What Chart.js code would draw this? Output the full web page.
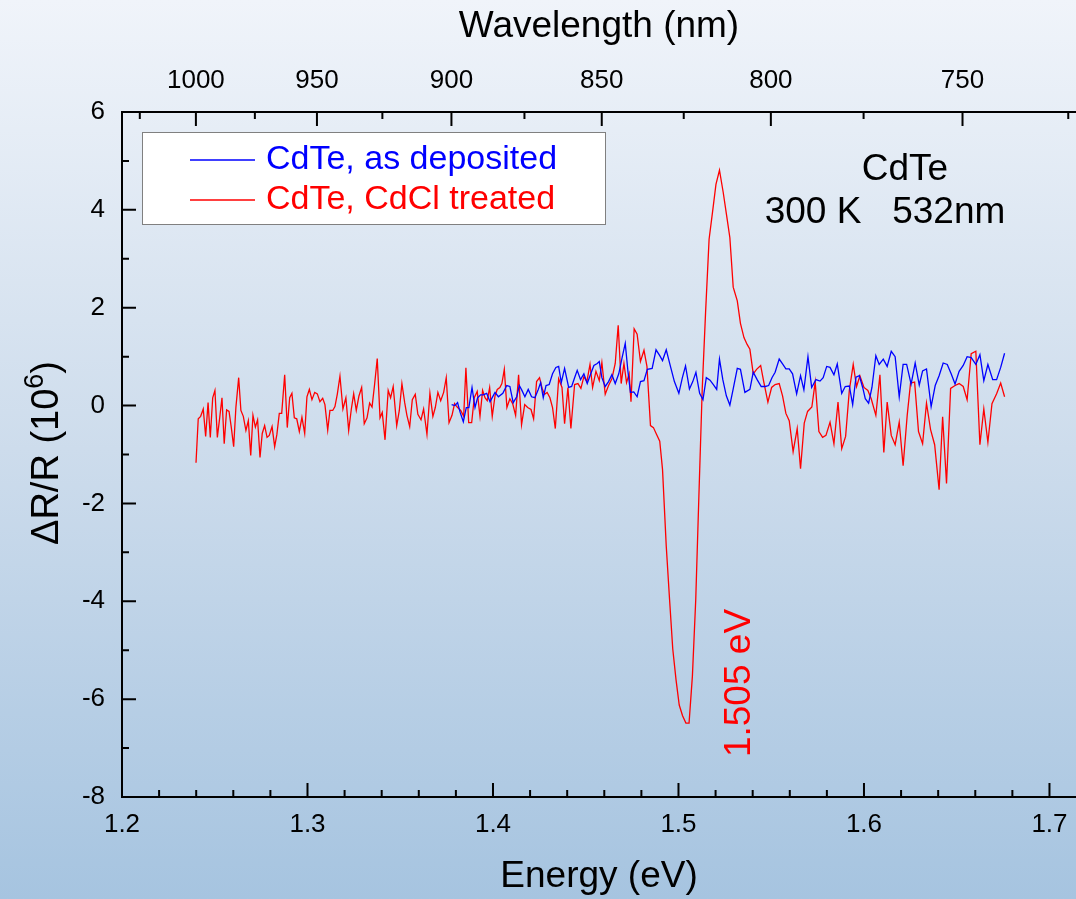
<!DOCTYPE html>
<html lang="en">
<head>
<meta charset="UTF-8">
<title>CdTe photoreflectance</title>
<script src="https://cdn.jsdelivr.net/npm/chart.js@4"></script>
<style>
  html, body { margin: 0; padding: 0; }
  body {
    width: 1076px; height: 899px; overflow: hidden;
    background: linear-gradient(to bottom, #f0f4fa 0%, #cddcec 50%, #a6c4e0 100%);
  }
  canvas { display: block; }
</style>
</head>
<body>
<canvas id="prChart" width="1076" height="899"></canvas>
<script>
// photon energy (eV) = HC / wavelength (nm)
const HC = 1239.84;

// tick positions
const energyTicks = [1.2, 1.3, 1.4, 1.5, 1.6, 1.7];
const energyMinor = [1.22, 1.24, 1.26, 1.28, 1.32, 1.34, 1.36, 1.38, 1.42, 1.44, 1.46, 1.48,
                     1.52, 1.54, 1.56, 1.58, 1.62, 1.64, 1.66, 1.68];
const wavelengthTicks = [1000, 950, 900, 850, 800, 750];
const wavelengthMinor = [1025, 975, 925, 875, 825, 775, 725];
const signalTicks = [-8, -6, -4, -2, 0, 2, 4, 6];
const signalMinor = [-7, -5, -3, -1, 1, 3, 5];

// CdTe as deposited
const blueEnergy = [
  1.3777,1.3795,1.3809,1.3823,1.3840,1.3856,1.3870,1.3887,1.3903,1.3917,
  1.3933,1.3947,1.3966,1.3984,1.4011,1.4029,1.4053,1.4074,1.4091,1.4109,
  1.4128,1.4142,1.4156,1.4172,1.4190,1.4208,1.4226,1.4244,1.4257,1.4271,
  1.4286,1.4303,1.4321,1.4339,1.4354,1.4368,1.4386,1.4408,1.4424,1.4440,
  1.4454,1.4472,1.4490,1.4508,1.4527,1.4544,1.4562,1.4573,1.4587,1.4605,
  1.4623,1.4641,1.4659,1.4678,1.4696,1.4713,1.4728,1.4741,1.4759,1.4777,
  1.4795,1.4814,1.4832,1.4858,1.4879,1.4899,1.4914,1.4934,1.4956,1.4978,
  1.5002,1.5021,1.5038,1.5059,1.5077,1.5094,1.5114,1.5132,1.5150,1.5170,
  1.5188,1.5206,1.5221,1.5239,1.5258,1.5277,1.5295,1.5317,1.5334,1.5358,
  1.5385,1.5403,1.5424,1.5446,1.5468,1.5486,1.5504,1.5521,1.5543,1.5561,
  1.5579,1.5597,1.5615,1.5637,1.5658,1.5676,1.5698,1.5718,1.5741,1.5763,
  1.5780,1.5799,1.5817,1.5838,1.5856,1.5880,1.5899,1.5921,1.5939,1.5957,
  1.5975,1.5993,1.6007,1.6025,1.6043,1.6064,1.6082,1.6104,1.6125,1.6147,
  1.6168,1.6190,1.6211,1.6230,1.6254,1.6276,1.6298,1.6316,1.6337,1.6362,
  1.6384,1.6405,1.6427,1.6449,1.6470,1.6491,1.6513,1.6535,1.6556,1.6578,
  1.6603,1.6625,1.6646,1.6668,1.6694,1.6715,1.6737,1.6758
];
const blueSignal = [
  0.02,0.00,0.06,-0.14,-0.33,-0.04,-0.04,0.37,-0.04,0.16,
  0.22,0.22,0.25,0.08,0.27,0.18,0.25,0.41,0.39,0.06,
  0.18,0.41,0.31,0.18,0.33,0.18,0.16,0.33,0.47,0.16,
  0.41,0.43,0.65,0.78,0.80,0.47,0.76,0.37,0.39,0.57,
  0.72,0.53,0.65,0.45,0.65,0.82,0.86,0.90,0.57,0.39,
  0.49,0.63,0.45,0.65,0.98,1.27,0.68,0.27,0.28,0.18,
  0.49,0.51,0.74,0.76,1.14,1.02,0.92,1.14,0.81,0.49,
  0.25,0.57,0.81,0.34,0.49,0.68,0.25,0.12,0.57,0.52,
  0.43,0.33,0.95,0.53,0.20,0.01,0.34,0.76,0.74,0.27,
  0.33,0.68,0.53,0.39,0.39,0.41,0.57,0.68,0.95,0.85,
  0.75,0.75,0.65,0.24,0.61,0.32,1.00,0.37,0.53,0.50,
  0.57,0.80,0.78,0.63,0.85,0.25,0.39,0.40,0.02,0.58,
  0.61,0.37,0.14,0.05,0.37,1.02,0.84,0.95,0.80,1.11,
  1.00,0.18,0.84,0.84,0.44,0.87,0.42,0.71,0.75,-0.02,
  0.41,0.61,0.87,0.84,0.65,0.44,0.70,0.82,1.00,0.98,
  0.84,1.04,0.51,0.84,0.53,0.53,0.78,1.07
];

// CdTe, CdCl treated
const redEnergy = [
  1.2399,1.2411,1.2424,1.2438,1.2451,1.2464,1.2476,1.2489,1.2501,1.2514,
  1.2527,1.2539,1.2551,1.2564,1.2577,1.2589,1.2602,1.2614,1.2629,1.2641,
  1.2654,1.2668,1.2681,1.2694,1.2706,1.2719,1.2731,1.2744,1.2756,1.2769,
  1.2782,1.2794,1.2809,1.2823,1.2835,1.2848,1.2861,1.2877,1.2891,1.2904,
  1.2916,1.2929,1.2942,1.2956,1.2970,1.2985,1.2997,1.3010,1.3024,1.3039,
  1.3053,1.3067,1.3082,1.3094,1.3109,1.3121,1.3136,1.3148,1.3161,1.3175,
  1.3191,1.3207,1.3222,1.3236,1.3249,1.3263,1.3277,1.3292,1.3306,1.3321,
  1.3335,1.3348,1.3362,1.3376,1.3391,1.3403,1.3418,1.3435,1.3448,1.3462,
  1.3481,1.3495,1.3509,1.3524,1.3536,1.3551,1.3565,1.3581,1.3595,1.3612,
  1.3626,1.3644,1.3660,1.3676,1.3689,1.3703,1.3718,1.3734,1.3748,1.3763,
  1.3779,1.3793,1.3807,1.3826,1.3842,1.3854,1.3869,1.3885,1.3899,1.3915,
  1.3930,1.3944,1.3957,1.3969,1.3982,1.3996,1.4011,1.4023,1.4037,1.4048,
  1.4061,1.4075,1.4091,1.4106,1.4122,1.4138,1.4154,1.4171,1.4187,1.4205,
  1.4219,1.4235,1.4251,1.4265,1.4278,1.4292,1.4307,1.4321,1.4336,1.4354,
  1.4372,1.4386,1.4404,1.4420,1.4440,1.4458,1.4474,1.4490,1.4506,1.4523,
  1.4537,1.4555,1.4573,1.4587,1.4605,1.4623,1.4641,1.4659,1.4675,1.4691,
  1.4706,1.4720,1.4734,1.4744,1.4761,1.4777,1.4795,1.4814,1.4830,1.4849,
  1.4865,1.4882,1.4899,1.4914,1.4934,1.4952,1.4969,1.4987,1.5004,1.5022,
  1.5040,1.5057,1.5075,1.5093,1.5110,1.5128,1.5146,1.5165,1.5184,1.5202,
  1.5221,1.5241,1.5260,1.5277,1.5295,1.5317,1.5334,1.5353,1.5370,1.5385,
  1.5403,1.5421,1.5443,1.5460,1.5482,1.5502,1.5521,1.5543,1.5561,1.5579,
  1.5597,1.5618,1.5640,1.5658,1.5678,1.5696,1.5719,1.5737,1.5757,1.5777,
  1.5795,1.5817,1.5838,1.5860,1.5880,1.5901,1.5921,1.5942,1.5960,1.5978,
  1.6000,1.6021,1.6039,1.6064,1.6086,1.6107,1.6125,1.6147,1.6168,1.6190,
  1.6211,1.6233,1.6251,1.6273,1.6294,1.6316,1.6337,1.6359,1.6381,1.6405,
  1.6424,1.6445,1.6467,1.6491,1.6513,1.6535,1.6556,1.6578,1.6603,1.6625,
  1.6646,1.6668,1.6690,1.6715,1.6737,1.6758
];
const redSignal = [
  -1.17,-0.27,-0.22,-0.07,-0.63,0.06,-0.65,0.16,0.31,-0.65,
  -0.24,0.16,-0.78,-0.09,-0.12,-0.44,-0.84,-0.04,0.57,-0.10,
  -0.22,-0.51,-0.31,-1.02,-0.20,-0.44,-0.29,-1.06,-0.57,-0.41,
  -0.65,-0.61,-0.43,-0.84,-0.59,-0.16,-0.16,0.63,-0.45,0.16,
  0.25,-0.25,-0.27,-0.53,-0.24,-0.57,0.18,0.33,0.12,0.27,
  0.24,0.08,0.15,0.02,-0.50,-0.10,-0.10,-0.02,0.24,0.60,
  -0.07,0.16,-0.51,-0.08,0.24,-0.10,0.19,0.37,-0.37,-0.25,
  0.05,-0.03,0.44,0.96,-0.25,-0.14,-0.70,0.31,0.16,0.39,
  -0.41,-0.10,0.45,0.06,-0.20,-0.43,0.12,0.23,-0.18,-0.29,
  -0.07,-0.59,0.25,-0.22,-0.04,0.27,0.10,0.27,0.57,-0.35,
  -0.20,0.04,-0.03,-0.10,-0.22,0.77,-0.35,-0.35,0.16,0.29,
  -0.22,0.31,0.16,0.10,0.37,-0.22,0.20,0.33,0.37,0.45,
  0.74,-0.04,0.14,0.04,-0.20,0.63,-0.39,0.02,-0.04,-0.08,
  -0.27,0.49,0.57,0.35,0.23,0.27,0.16,-0.04,-0.47,0.55,
  0.37,-0.37,0.37,-0.47,0.43,0.45,0.35,0.59,0.49,0.84,
  0.37,0.70,0.51,0.88,0.23,0.41,0.55,0.86,1.64,0.45,
  0.86,0.47,0.65,0.08,1.57,1.46,0.90,1.13,0.80,-0.41,
  -0.45,-0.59,-0.73,-1.31,-2.87,-3.97,-4.97,-5.61,-6.12,-6.34,
  -6.49,-6.49,-5.53,-3.97,-1.85,0.34,1.90,3.40,3.97,4.52,
  4.81,4.36,3.87,3.43,2.42,2.14,1.68,1.39,1.25,1.15,
  0.65,0.74,0.82,0.48,0.07,0.37,0.43,0.45,0.20,-0.16,
  -0.31,-0.94,-0.47,-1.29,-0.36,-0.12,-0.03,0.48,-0.53,-0.65,
  -0.61,-0.34,-0.78,0.07,-0.88,-0.63,0.31,0.84,0.39,0.61,
  0.37,0.31,0.14,-0.20,0.63,-0.96,0.07,-0.61,-0.80,-0.34,
  -1.23,-0.20,0.46,0.48,-0.53,-0.78,0.05,-0.49,-0.80,-1.72,
  -0.23,-1.59,0.35,0.41,0.45,0.39,0.12,1.06,1.11,-0.80,
  -0.07,-0.75,0.04,0.24,0.46,0.18
];

const FONT = '"Liberation Sans", Arial, Helvetica, sans-serif';

function toPoints(xs, ys) {
  return xs.map((x, i) => ({ x: x, y: ys[i] }));
}

// keep the plot flush with the left axis and the right edge of the canvas
function fitHorizontal(height) {
  return s => {
    s.height = height;
    s.paddingLeft = 0;
    s.paddingRight = 0;
  };
}

// inward tick marks, legend box, y title and the text notes
const extras = {
  id: 'extras',
  afterDraw(chart) {
    const ctx = chart.ctx;
    const a = chart.chartArea;
    const sx = chart.scales.x, sy = chart.scales.y;
    ctx.save();

    // ticks
    ctx.strokeStyle = '#000';
    ctx.lineWidth = 2;
    ctx.beginPath();
    energyTicks.forEach(v => { const p = sx.getPixelForValue(v); ctx.moveTo(p, a.bottom); ctx.lineTo(p, a.bottom - 14); });
    energyMinor.forEach(v => { const p = sx.getPixelForValue(v); ctx.moveTo(p, a.bottom); ctx.lineTo(p, a.bottom - 7); });
    wavelengthTicks.forEach(w => { const p = sx.getPixelForValue(HC / w); ctx.moveTo(p, a.top); ctx.lineTo(p, a.top + 14); });
    wavelengthMinor.forEach(w => { const p = sx.getPixelForValue(HC / w); ctx.moveTo(p, a.top); ctx.lineTo(p, a.top + 7); });
    signalTicks.forEach(v => { const p = sy.getPixelForValue(v); ctx.moveTo(a.left, p); ctx.lineTo(a.left + 14, p); });
    signalMinor.forEach(v => { const p = sy.getPixelForValue(v); ctx.moveTo(a.left, p); ctx.lineTo(a.left + 7, p); });
    ctx.stroke();

    // legend
    ctx.fillStyle = '#fff';
    ctx.fillRect(142, 132, 463, 92);
    ctx.strokeStyle = '#808080';
    ctx.lineWidth = 1;
    ctx.strokeRect(142.5, 132.5, 463, 92);
    ctx.font = '34px ' + FONT;
    ctx.textBaseline = 'middle';
    ctx.textAlign = 'left';
    chart.data.datasets.forEach((ds, i) => {
      const y = 160 + i * 40;
      ctx.strokeStyle = ds.borderColor;
      ctx.lineWidth = 1.3;
      ctx.beginPath();
      ctx.moveTo(190, y);
      ctx.lineTo(255, y);
      ctx.stroke();
      ctx.fillStyle = ds.borderColor;
      ctx.fillText(ds.label, 266, y);
    });

    // sample notes
    ctx.fillStyle = '#000';
    ctx.font = '37px ' + FONT;
    ctx.textAlign = 'center';
    ctx.fillText('CdTe', 905, 170);
    ctx.fillText('300 K   532nm', 885, 213);

    // transition energy
    ctx.save();
    ctx.translate(740, 683);
    ctx.rotate(-Math.PI / 2);
    ctx.fillStyle = '#ff0000';
    ctx.font = '37px ' + FONT;
    ctx.fillText('1.505 eV', 0, 0);
    ctx.restore();

    // y title with superscript
    ctx.save();
    ctx.translate(58, 453);
    ctx.rotate(-Math.PI / 2);
    ctx.fillStyle = '#000';
    ctx.textAlign = 'left';
    ctx.textBaseline = 'alphabetic';
    const big = '38px ' + FONT, small = '27px ' + FONT;
    ctx.font = big;
    const w1 = ctx.measureText('\u0394R/R (10').width;
    const w3 = ctx.measureText(')').width;
    ctx.font = small;
    const w2 = ctx.measureText('6').width;
    let x = -(w1 + w2 + w3) / 2;
    ctx.font = big;
    ctx.fillText('\u0394R/R (10', x, 0);
    x += w1;
    ctx.font = small;
    ctx.fillText('6', x, -15);
    x += w2;
    ctx.font = big;
    ctx.fillText(')', x, 0);
    ctx.restore();

    ctx.restore();
  }
};

const ctx = document.getElementById('prChart').getContext('2d');
new Chart(ctx, {
  type: 'line',
  data: {
    datasets: [
      {
        label: 'CdTe, as deposited',
        data: toPoints(blueEnergy, blueSignal),
        borderColor: '#0000ff',
        borderWidth: 1.3,
        pointRadius: 0,
        tension: 0
      },
      {
        label: 'CdTe, CdCl treated',
        data: toPoints(redEnergy, redSignal),
        borderColor: '#ff0000',
        borderWidth: 1.3,
        pointRadius: 0,
        tension: 0
      }
    ]
  },
  options: {
    responsive: false,
    animation: false,
    devicePixelRatio: 1,
    layout: { padding: 0 },
    plugins: { legend: { display: false }, tooltip: { enabled: false } },
    scales: {
      x: {
        type: 'linear',
        position: 'bottom',
        min: 1.2,
        max: 1.7143,
        afterBuildTicks: s => { s.ticks = energyTicks.map(v => ({ value: v })); },
        afterFit: fitHorizontal(102),
        grid: { display: false, drawTicks: false },
        border: { display: true, color: '#000', width: 2 },
        ticks: {
          color: '#000', font: { family: FONT, size: 26 }, padding: 12,
          maxRotation: 0, autoSkip: false,
          callback: v => v.toFixed(1)
        },
        title: { display: true, text: 'Energy (eV)', color: '#000', font: { family: FONT, size: 37 }, padding: 0 }
      },
      x2: {
        type: 'linear',
        position: 'top',
        min: 1.2,
        max: 1.7143,
        afterBuildTicks: s => { s.ticks = wavelengthTicks.map(w => ({ value: HC / w })); },
        afterFit: fitHorizontal(112),
        grid: { display: false, drawTicks: false },
        border: { display: true, color: '#000', width: 2 },
        ticks: {
          color: '#000', font: { family: FONT, size: 26 }, padding: 16,
          maxRotation: 0, autoSkip: false,
          callback: (v, i) => String(wavelengthTicks[i])
        },
        title: { display: true, text: 'Wavelength (nm)', color: '#000', font: { family: FONT, size: 37 }, padding: { top: 5, bottom: 0 } }
      },
      y: {
        min: -8,
        max: 6,
        afterBuildTicks: s => { s.ticks = signalTicks.map(v => ({ value: v })); },
        afterFit: s => { s.width = 122; },
        grid: { display: false, drawTicks: false },
        border: { display: true, color: '#000', width: 2 },
        ticks: { color: '#000', font: { family: FONT, size: 26 }, padding: 17, callback: v => String(v) }
      }
    }
  },
  plugins: [extras]
});
</script>
</body>
</html>
